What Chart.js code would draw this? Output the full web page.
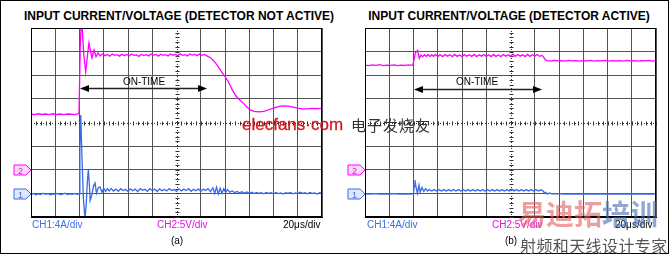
<!DOCTYPE html>
<html>
<head>
<meta charset="utf-8">
<script src="https://cdn.jsdelivr.net/npm/chart.js@4/dist/chart.umd.min.js"></script>
<style>
  html, body { margin: 0; padding: 0; background: #fff; }
  body { width: 671px; height: 255px; position: relative; overflow: hidden; font-family: "Liberation Sans", Arial, sans-serif; }
  .frame { position: absolute; left: 0; top: 0; width: 667px; height: 252px; border: 1px solid #000; }
  .t { position: absolute; white-space: nowrap; }
  .title { font-size: 12px; line-height: 12px; font-weight: bold; color: #000; top: 10px; width: 320px; text-align: center; }
  .lbl { font-size: 10px; line-height: 10px; top: 220px; }
  .cap { font-size: 10px; line-height: 10px; top: 236px; width: 40px; text-align: center; }
  .ontime { font-size: 10px; line-height: 10px; top: 77px; width: 60px; text-align: center; }
  canvas { position: absolute; }
  svg { position: absolute; }
  .wm1 { font-size: 17px; line-height: 17px; color: #d9141b; top: 116px; left: 242px; -webkit-text-stroke: 0.3px #d9141b; }
  .wm2 { font-family: "Noto Sans CJK SC"; font-size: 15px; line-height: 16px; color: #333; top: 117px; left: 351px; letter-spacing: 1px; }
  .wm3 { font-family: "Noto Sans CJK SC"; font-weight: bold; font-size: 28px; line-height: 28px; top: 199px; left: 518px; }
  .wm4 { font-family: "Noto Sans CJK SC"; font-size: 16px; line-height: 16px; color: #555; top: 237px; left: 520px; letter-spacing: 0.4px; }
</style>
</head>
<body>
<div class="frame"></div>

<div class="t title" style="left:19px">INPUT CURRENT/VOLTAGE (DETECTOR NOT ACTIVE)</div>
<div class="t title" style="left:349px">INPUT CURRENT/VOLTAGE (DETECTOR ACTIVE)</div>

<canvas id="panelA" width="301" height="199" style="left:26px;top:23px"></canvas>
<canvas id="panelB" width="301" height="199" style="left:360px;top:23px"></canvas>

<div class="t ontime" style="left:114px">ON-TIME</div>
<div class="t ontime" style="left:447px">ON-TIME</div>

<svg style="left:13px;top:164px" width="20" height="13"><polygon points="1,1 13,1 18,6 13,11 1,11" fill="#ffd8ff" stroke="#ff00ff"/><text x="7.5" y="9.5" font-size="9" font-family="Liberation Sans" fill="#ff00ff" text-anchor="middle">2</text></svg>
<svg style="left:13px;top:188px" width="20" height="13"><polygon points="1,1 13,1 18,6 13,11 1,11" fill="#e0e8ff" stroke="#3a6fe8"/><text x="7.5" y="9.5" font-size="9" font-family="Liberation Sans" fill="#3a6fe8" text-anchor="middle">1</text></svg>
<svg style="left:347px;top:164px" width="20" height="13"><polygon points="1,1 13,1 18,6 13,11 1,11" fill="#ffd8ff" stroke="#ff00ff"/><text x="7.5" y="9.5" font-size="9" font-family="Liberation Sans" fill="#ff00ff" text-anchor="middle">2</text></svg>
<svg style="left:347px;top:188px" width="20" height="13"><polygon points="1,1 13,1 18,6 13,11 1,11" fill="#e0e8ff" stroke="#3a6fe8"/><text x="7.5" y="9.5" font-size="9" font-family="Liberation Sans" fill="#3a6fe8" text-anchor="middle">1</text></svg>

<div class="t lbl" style="left:32px;color:#3a6fe8">CH1:4A/div</div>
<div class="t lbl" style="left:157px;color:#e010e0">CH2:5V/div</div>
<div class="t lbl" style="left:283px;color:#000">20μs/div</div>
<div class="t cap" style="left:157px">(a)</div>

<div class="t lbl" style="left:367px;color:#3a6fe8">CH1:4A/div</div>
<div class="t lbl" style="left:492px;color:#e010e0">CH2:5V/div</div>
<div class="t lbl" style="left:615px;color:#000">20μs/div</div>

<div class="t wm1">elecfans·com</div>
<div class="t wm2">电子发烧友</div>
<div class="t wm3"><span style="color:rgba(225,95,95,0.6)">易迪拓</span><span style="color:rgba(70,110,175,0.6)">培训</span></div>
<div class="t cap" style="left:491px">(b)</div>
<div class="t wm4">射频和天线设计专家</div>

<script>
// time in us (20 us/div, 12 div), level in divisions (-4..4)
const timeTicks = [0, 20, 40, 60, 80, 100, 120, 140, 160, 180, 200, 220, 240];
const levelTicks = [-4, -3, -2, -1, 0, 1, 2, 3, 4];

// (a) detector not active
const voltageA = [
  [0,0.36],[3,0.33],[6,0.37],[9,0.34],[12,0.36],[15,0.33],[18,0.37],[21,0.34],[24,0.36],[27,0.33],
  [30,0.36],[33,0.35],[36,0.33],[38.5,0.36],[39.6,0.4],[40.6,3.2],[41.4,4.2],[42.2,4.0],[43.5,2.9],
  [45.1,2.14],[46.5,2.8],[47.8,3.37],[49.2,3.0],[50.3,2.73],[52,3.07],[53.6,2.78],[55.3,2.94],
  [57,2.82],[59,2.9],[61,2.83],[63,2.88],[65,2.81],[67,2.9],[69,2.84],[71,2.87],[73,2.81],[75,2.89],
  [77,2.83],[79,2.88],[81,2.82],[83,2.9],[85,2.84],[87,2.86],[89,2.8],[91,2.89],[93,2.83],[95,2.87],
  [97,2.82],[99,2.9],[101,2.84],[103,2.88],[105,2.81],[107,2.89],[109,2.84],[111,2.87],[113,2.82],
  [115,2.9],[117,2.84],[119,2.88],[121,2.83],[123,2.91],[125,2.84],[127,2.87],[129,2.82],[131,2.9],
  [133,2.85],[135,2.88],[137,2.83],[139,2.9],[141,2.84],[143,2.88],[145,2.82],[148,2.74],[151,2.6],
  [154,2.4],[157,2.15],[160,1.95],[163,1.7],[166,1.38],[169,1.12],[172,0.96],[175,0.82],[178,0.66],
  [181,0.53],[184,0.47],[188,0.45],[192,0.47],[196,0.54],[200,0.61],[204,0.67],[208,0.7],[212,0.69],
  [216,0.65],[220,0.61],[224,0.58],[228,0.58],[232,0.6],[236,0.59],[240,0.6]
];
const currentA = [
  [0,-3.04],[2,-3.0],[4,-3.06],[6,-3.02],[8,-3.05],[10,-2.99],[12,-3.04],[14,-3.01],[16,-3.06],
  [18,-3.02],[20,-3.04],[22,-3.0],[24,-3.05],[26,-3.03],[28,-2.99],[30,-3.05],[32,-3.02],[34,-3.04],
  [36,-3.0],[38,-3.04],[39.6,-3.02],[40.3,-1.2],[41,0.32],[42,-1.4],[43.2,-3.2],[44.5,-4.05],
  [45.5,-3.5],[46.5,-2.5],[47.3,-2.0],[48.1,-2.6],[48.8,-3.3],[50,-3.1],[51.5,-2.7],[52.8,-2.56],
  [54,-2.99],[55.5,-2.75],[57,-2.73],[58.5,-2.95],[60,-2.78],[61.5,-2.92],[63,-2.8],[64.5,-2.9],
  [66,-2.79],[68,-2.9],[70,-2.82],[72,-2.91],[74,-2.8],[76,-2.88],[78,-2.83],[80,-2.92],[82,-2.81],
  [84,-2.89],[86,-2.82],[88,-2.93],[90,-2.8],[92,-2.87],[94,-2.83],[96,-2.91],[98,-2.8],[100,-2.88],
  [102,-2.82],[104,-2.92],[106,-2.81],[108,-2.89],[110,-2.83],[112,-2.9],[114,-2.8],[116,-2.88],
  [118,-2.84],[120,-2.92],[122,-2.81],[124,-2.9],[126,-2.82],[128,-2.88],[130,-2.8],[132,-2.91],
  [134,-2.83],[136,-2.89],[138,-2.81],[140,-2.92],[142,-2.82],[144,-2.88],[146,-2.8],[148,-2.93],
  [150,-2.76],[151.5,-3.0],[153,-2.74],[154.5,-3.02],[156,-2.78],[157.5,-2.99],[159,-2.8],
  [160.5,-2.96],[162,-2.84],[164,-2.95],[166,-2.9],[168,-2.97],[170,-2.92],[172,-2.98],[174,-2.93],
  [176,-2.99],[178,-2.94],[180,-3.0],[182,-2.95],[184,-3.01],[186,-2.96],[188,-3.0],[190,-2.97],
  [192,-3.02],[194,-2.96],[196,-3.0],[198,-2.97],[200,-3.02],[202,-2.96],[204,-3.01],[206,-2.98],
  [208,-3.03],[210,-2.97],[212,-3.0],[214,-2.96],[216,-3.02],[218,-2.98],[220,-3.01],[222,-2.95],
  [224,-3.0],[226,-2.97],[228,-3.02],[230,-2.96],[232,-3.0],[234,-2.98],[236,-3.03],[238,-2.97],[240,-3.0]
];

// (b) detector active
const voltageB = [
  [0,2.43],[3,2.41],[6,2.44],[9,2.42],[12,2.45],[15,2.41],[18,2.43],[21,2.42],[24,2.44],[27,2.41],
  [30,2.43],[33,2.42],[36,2.44],[39.4,2.42],[40.2,2.6],[41.5,2.95],[43.4,3.05],[44.8,2.72],[46.2,2.86],
  [47.5,2.78],[49,2.87],[50.5,2.8],[52,2.88],[53.5,2.79],[55,2.87],[56.5,2.8],[58,2.88],[60,2.8],
  [62,2.87],[64,2.79],[66,2.88],[68,2.81],[70,2.87],[72,2.79],[74,2.88],[76,2.8],[78,2.86],[80,2.79],
  [82,2.88],[84,2.81],[86,2.87],[88,2.8],[90,2.88],[92,2.79],[94,2.87],[96,2.81],[98,2.88],[100,2.8],
  [102,2.87],[104,2.79],[106,2.88],[108,2.8],[110,2.86],[112,2.79],[114,2.88],[116,2.81],[118,2.87],
  [120,2.8],[122,2.89],[124,2.8],[126,2.88],[128,2.81],[130,2.87],[132,2.79],[134,2.88],[136,2.8],
  [138,2.87],[140,2.81],[142,2.88],[144,2.8],[146,2.84],[147.2,2.78],[148.5,2.67],[150,2.62],
  [153,2.6],[156,2.63],[159,2.61],[162,2.62],[165,2.6],[168,2.63],[171,2.61],[174,2.62],[177,2.6],
  [180,2.62],[183,2.61],[186,2.63],[189,2.6],[192,2.62],[195,2.61],[198,2.63],[201,2.6],[204,2.62],
  [207,2.61],[210,2.62],[213,2.6],[216,2.63],[219,2.61],[222,2.62],[225,2.6],[228,2.62],[231,2.61],
  [234,2.63],[237,2.6],[240,2.62]
];
const currentB = [
  [0,-3.02],[4,-3.03],[8,-3.01],[12,-3.03],[16,-3.02],[20,-3.03],[24,-3.01],[28,-3.03],[32,-3.02],
  [36,-3.03],[40,-3.02],[40.6,-2.7],[41.2,-2.44],[42,-2.7],[43.2,-3.0],[44.5,-2.65],[45.5,-2.95],
  [47,-2.75],[48.5,-2.92],[50,-2.8],[51.5,-2.9],[53,-2.84],[55,-2.9],[57,-2.84],[59,-2.9],[61,-2.84],
  [63,-2.9],[65,-2.84],[67,-2.9],[69,-2.84],[71,-2.9],[73,-2.84],[75,-2.9],[77,-2.84],[79,-2.9],
  [81,-2.84],[83,-2.9],[85,-2.84],[87,-2.9],[89,-2.84],[91,-2.9],[93,-2.84],[95,-2.9],[97,-2.84],
  [99,-2.9],[101,-2.84],[103,-2.9],[105,-2.84],[107,-2.9],[109,-2.84],[111,-2.9],[113,-2.84],
  [115,-2.9],[117,-2.84],[119,-2.9],[121,-2.83],[123,-2.9],[125,-2.84],[127,-2.9],[129,-2.84],
  [131,-2.9],[133,-2.84],[135,-2.9],[137,-2.84],[139,-2.9],[141,-2.84],[143,-2.9],[145,-2.85],
  [147,-2.9],[148,-3.0],[149,-2.95],[150.5,-3.03],[152,-2.98],[154,-3.02],[158,-3.01],[164,-3.03],
  [170,-3.02],[176,-3.03],[182,-3.02],[188,-3.03],[194,-3.02],[200,-3.03],[206,-3.02],[212,-3.03],
  [218,-3.02],[224,-3.03],[230,-3.02],[236,-3.03],[240,-3.02]
];

// ON-TIME arrows: start us, end us, level
const onTimeA = [40.4, 145.2, 1.46];
const onTimeB = [40.4, 146, 1.42];

const MAGENTA = "#ff00ff";
const BLUE = "#3a6ae8";
const GRID = "#555";

const toPoints = (arr) => arr.map(([x, y]) => ({ x, y }));

const graticule = {
  id: "graticule",
  beforeDatasetsDraw(chart) {
    const { ctx, chartArea: a, scales } = chart;
    const cx = Math.round(scales.x.getPixelForValue(120)) + 0.5;
    const cy = Math.round(scales.y.getPixelForValue(0)) + 0.5;
    ctx.save();
    ctx.strokeStyle = "#333";
    ctx.lineWidth = 1;
    ctx.setLineDash([1, 2]);
    ctx.beginPath();
    ctx.moveTo(cx, a.top);
    ctx.lineTo(cx, a.bottom);
    ctx.moveTo(a.left, cy);
    ctx.lineTo(a.right, cy);
    ctx.stroke();
    ctx.setLineDash([]);
    ctx.beginPath();
    for (let t = 0; t <= 240; t += 4) {
      const px = Math.round(scales.x.getPixelForValue(t)) + 0.5;
      ctx.moveTo(px, cy - 2);
      ctx.lineTo(px, cy + 2);
    }
    for (let v = -4; v <= 4.001; v += 0.2) {
      const py = Math.round(scales.y.getPixelForValue(v)) + 0.5;
      ctx.moveTo(cx - 2, py);
      ctx.lineTo(cx + 2, py);
    }
    ctx.stroke();
    ctx.restore();
  },
  afterDraw(chart) {
    const { ctx, chartArea: a, scales } = chart;
    const arrow = chart.options.plugins.graticule.arrow;
    ctx.save();
    ctx.strokeStyle = "#000";
    ctx.lineWidth = 1;
    ctx.strokeRect(Math.round(a.left) + 0.5, Math.round(a.top) + 0.5,
      Math.round(a.right - a.left) - 1, Math.round(a.bottom - a.top) - 1);
    const x1 = scales.x.getPixelForValue(arrow[0]);
    const x2 = scales.x.getPixelForValue(arrow[1]);
    const y = Math.round(scales.y.getPixelForValue(arrow[2])) + 0.5;
    ctx.strokeStyle = "#222";
    ctx.lineWidth = 1.5;
    ctx.beginPath();
    ctx.moveTo(x1 + 4, y);
    ctx.lineTo(x2 - 4, y);
    ctx.stroke();
    ctx.fillStyle = "#000";
    ctx.beginPath();
    ctx.moveTo(x1, y);
    ctx.lineTo(x1 + 9, y - 3.5);
    ctx.lineTo(x1 + 9, y + 3.5);
    ctx.closePath();
    ctx.moveTo(x2, y);
    ctx.lineTo(x2 - 9, y - 3.5);
    ctx.lineTo(x2 - 9, y + 3.5);
    ctx.closePath();
    ctx.fill();
    ctx.restore();
  },
};

function scopePanel(id, voltage, current, arrow) {
  const el = document.getElementById(id);
  return new Chart(el.getContext("2d"), {
    type: "line",
    data: {
      datasets: [
        { data: toPoints(voltage), borderColor: MAGENTA, borderWidth: 1.3 },
        { data: toPoints(current), borderColor: BLUE, borderWidth: 1.3 },
      ],
    },
    options: {
      responsive: false,
      animation: false,
      layout: { padding: 5 },
      elements: { point: { radius: 0 }, line: { tension: 0 } },
      datasets: { line: { clip: 0 } },
      plugins: {
        legend: { display: false },
        tooltip: { enabled: false },
        graticule: { arrow },
      },
      scales: {
        x: {
          type: "linear",
          min: 0,
          max: 240,
          afterBuildTicks: (s) => { s.ticks = timeTicks.map((v) => ({ value: v })); },
          ticks: { display: false },
          grid: {
            drawTicks: false,
            color: (c) => (c.tick && c.tick.value === 120 ? "rgba(0,0,0,0)" : GRID),
          },
          border: { color: "#000" },
        },
        y: {
          type: "linear",
          min: -4,
          max: 4,
          afterBuildTicks: (s) => { s.ticks = levelTicks.map((v) => ({ value: v })); },
          ticks: { display: false },
          grid: {
            drawTicks: false,
            color: (c) => (c.tick && c.tick.value === 0 ? "rgba(0,0,0,0)" : GRID),
          },
          border: { color: "#000" },
        },
      },
    },
    plugins: [graticule],
  });
}

scopePanel("panelA", voltageA, currentA, onTimeA);
scopePanel("panelB", voltageB, currentB, onTimeB);
</script>
</body>
</html>
